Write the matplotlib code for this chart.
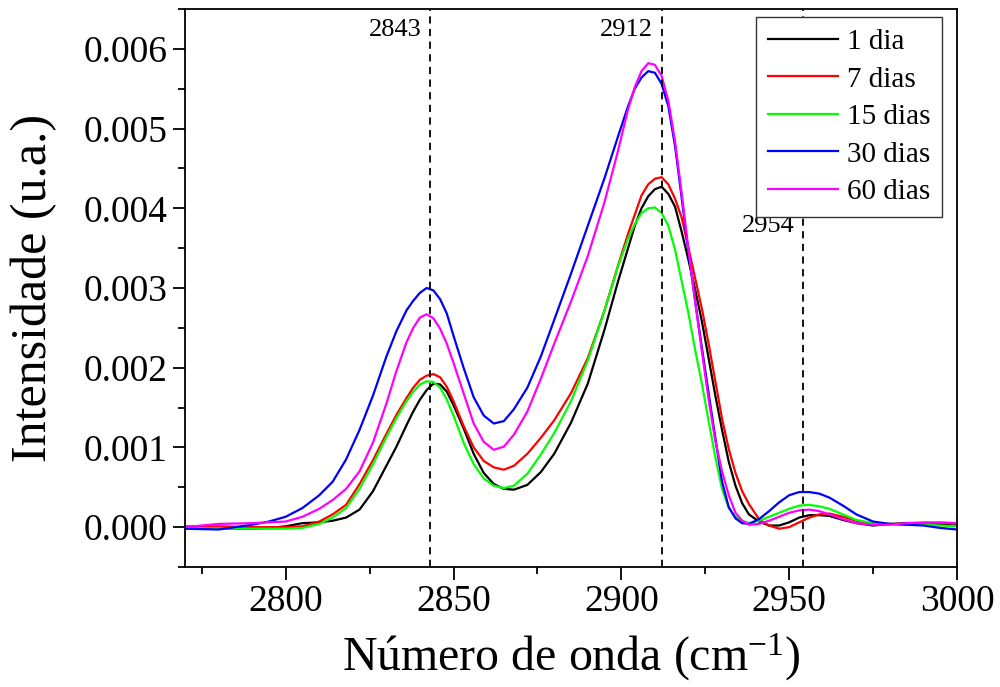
import matplotlib
matplotlib.use("Agg")
import matplotlib.pyplot as plt
from matplotlib.ticker import MultipleLocator, FormatStrFormatter

plt.rcParams['font.family'] = ['Liberation Serif', 'DejaVu Serif']
plt.rcParams['mathtext.fontset'] = 'custom'
plt.rcParams['mathtext.rm'] = 'Liberation Serif'
plt.rcParams['mathtext.it'] = 'Liberation Serif:italic'

# wavenumber grid (cm-1), denser around the bands
wavenumber = [2770, 2780, 2790, 2795, 2800, 2805, 2810, 2814, 2818, 2822,
              2826, 2830, 2833, 2836, 2838, 2840, 2842, 2844, 2846, 2848,
              2850, 2853, 2856, 2859, 2862, 2865, 2868, 2872, 2876, 2880,
              2885, 2890, 2895, 2899, 2902, 2904, 2906, 2908, 2910, 2912,
              2914, 2916, 2918, 2920, 2922, 2924, 2926, 2928, 2930, 2932,
              2934, 2936, 2938, 2941, 2944, 2947, 2950, 2953, 2956, 2959,
              2962, 2966, 2970, 2975, 2980, 2985, 2990, 2995, 3000]

dia1 = [-0.00002, -0.00002, -0.00002, -0.00001, 0.00001, 0.00005, 0.00006, 0.00008, 0.00012, 0.00022,
        0.00045, 0.00077, 0.00101, 0.00128, 0.00145, 0.00160, 0.00172, 0.00180, 0.00179, 0.00170,
        0.00153, 0.00124, 0.00092, 0.00068, 0.00054, 0.00048, 0.00047, 0.00053, 0.00069, 0.00092,
        0.00131, 0.00180, 0.00248, 0.00308, 0.00350, 0.00378, 0.00400, 0.00415, 0.00424, 0.00427,
        0.00418, 0.00402, 0.00370, 0.00335, 0.00298, 0.00258, 0.00212, 0.00165, 0.00122, 0.00082,
        0.00052, 0.00030, 0.00016, 0.00007, 0.00002, 0.00002, 0.00006, 0.00012, 0.00015, 0.00015,
        0.00014, 0.00009, 0.00005, 0.00002, 0.00004, 0.00005, 0.00004, 0.00003, 0.00002]

dias7 = [0.00001, 0.00001, 0.00000, 0.00000, 0.00000, 0.00001, 0.00007, 0.00016, 0.00028, 0.00054,
         0.00084, 0.00117, 0.00141, 0.00162, 0.00175, 0.00185, 0.00190, 0.00192, 0.00188, 0.00176,
         0.00158, 0.00127, 0.00100, 0.00083, 0.00075, 0.00072, 0.00077, 0.00092, 0.00112, 0.00134,
         0.00168, 0.00212, 0.00272, 0.00328, 0.00368, 0.00392, 0.00416, 0.00430, 0.00437, 0.00439,
         0.00430, 0.00412, 0.00388, 0.00350, 0.00312, 0.00274, 0.00230, 0.00183, 0.00136, 0.00098,
         0.00068, 0.00045, 0.00029, 0.00010, 0.00002, -0.00002, 0.00000, 0.00006, 0.00012, 0.00016,
         0.00017, 0.00013, 0.00008, 0.00004, 0.00004, 0.00004, 0.00004, 0.00005, 0.00005]

dias15 = [-0.00002, -0.00002, -0.00002, -0.00002, -0.00002, -0.00001, 0.00004, 0.00012, 0.00024, 0.00048,
          0.00079, 0.00113, 0.00137, 0.00158, 0.00170, 0.00179, 0.00183, 0.00182, 0.00175, 0.00160,
          0.00140, 0.00106, 0.00079, 0.00061, 0.00052, 0.00049, 0.00052, 0.00067, 0.00091, 0.00118,
          0.00158, 0.00209, 0.00272, 0.00327, 0.00362, 0.00380, 0.00394, 0.00400, 0.00401, 0.00394,
          0.00378, 0.00348, 0.00308, 0.00268, 0.00222, 0.00180, 0.00133, 0.00088, 0.00048, 0.00024,
          0.00013, 0.00008, 0.00005, 0.00008, 0.00013, 0.00018, 0.00023, 0.00027, 0.00028, 0.00026,
          0.00023, 0.00016, 0.00009, 0.00005, 0.00004, 0.00003, 0.00003, 0.00002, 0.00001]

dias30 = [-0.00002, -0.00003, 0.00003, 0.00007, 0.00013, 0.00024, 0.00040, 0.00057, 0.00085, 0.00122,
          0.00165, 0.00214, 0.00246, 0.00272, 0.00284, 0.00294, 0.00300, 0.00297, 0.00286, 0.00268,
          0.00240, 0.00200, 0.00163, 0.00140, 0.00130, 0.00133, 0.00148, 0.00175, 0.00214, 0.00260,
          0.00318, 0.00378, 0.00438, 0.00490, 0.00528, 0.00550, 0.00564, 0.00572, 0.00570, 0.00556,
          0.00528, 0.00478, 0.00412, 0.00345, 0.00283, 0.00225, 0.00168, 0.00112, 0.00057, 0.00025,
          0.00011, 0.00005, 0.00004, 0.00010, 0.00020, 0.00031, 0.00040, 0.00044, 0.00044, 0.00042,
          0.00037, 0.00027, 0.00016, 0.00007, 0.00004, 0.00003, 0.00002, -0.00001, -0.00003]

dias60 = [0.00000, 0.00004, 0.00005, 0.00006, 0.00007, 0.00013, 0.00023, 0.00034, 0.00048, 0.00070,
          0.00106, 0.00155, 0.00196, 0.00232, 0.00250, 0.00263, 0.00267, 0.00262, 0.00249, 0.00230,
          0.00206, 0.00168, 0.00130, 0.00107, 0.00097, 0.00101, 0.00116, 0.00145, 0.00186, 0.00230,
          0.00283, 0.00340, 0.00408, 0.00472, 0.00524, 0.00552, 0.00572, 0.00582, 0.00580, 0.00566,
          0.00535, 0.00484, 0.00418, 0.00348, 0.00283, 0.00220, 0.00160, 0.00108, 0.00070, 0.00040,
          0.00018, 0.00008, 0.00003, 0.00004, 0.00008, 0.00013, 0.00018, 0.00021, 0.00022, 0.00020,
          0.00016, 0.00010, 0.00005, 0.00003, 0.00003, 0.00005, 0.00006, 0.00006, 0.00005]

series = [dia1, dias7, dias15, dias30, dias60]
labels = ['1 dia', '7 dias', '15 dias', '30 dias', '60 dias']
colors = ['#000000', '#ff0000', '#00ff00', '#0000ff', '#ff00ff']

# band positions marked with dashed lines
bands = [2843, 2912, 2954]
band_label_y = [0.00624, 0.00624, 0.00378]

fig = plt.figure(figsize=(10, 6.87), dpi=100)
ax = fig.add_axes([0.185, 0.1747, 0.772, 0.8122])

for y, lab, c in zip(series, labels, colors):
    ax.plot(wavenumber, y, color=c, lw=1.6, label=lab, solid_joinstyle='round')

for b, ly in zip(bands, band_label_y):
    ax.axvline(b, color='black', ls=(0, (4, 3)), lw=1.3)
    ax.annotate(str(b), xy=(b, ly), xytext=(-6, 0), textcoords='offset points',
                ha='right', va='center', fontsize=19)

ax.set_xlim(2770, 3000)
ax.set_ylim(-0.0005, 0.0065)
ax.xaxis.set_major_locator(MultipleLocator(50))
ax.xaxis.set_minor_locator(MultipleLocator(25))
ax.yaxis.set_major_locator(MultipleLocator(0.001))
ax.yaxis.set_minor_locator(MultipleLocator(0.0005))
ax.yaxis.set_major_formatter(FormatStrFormatter('%.3f'))
ax.tick_params(which='major', direction='out', length=9, width=1.3, labelsize=27)
ax.tick_params(which='minor', direction='out', length=5, width=1.3)
for s in ax.spines.values():
    s.set_linewidth(1.3)

ax.set_xlabel(r'Número de onda (cm$^{-1}$)', fontsize=34.5, labelpad=9)
ax.set_ylabel('Intensidade (u.a.)', fontsize=36, labelpad=19)

leg = ax.legend(loc='upper right', bbox_to_anchor=(0.9806, 0.9857), borderaxespad=0,
                fontsize=21, handlelength=2.4, handletextpad=0.3, labelspacing=0.38,
                fancybox=False, framealpha=1, edgecolor='#333333', borderpad=0.4)
leg.get_frame().set_linewidth(1.0)

fig.savefig('out.png', dpi=100)
